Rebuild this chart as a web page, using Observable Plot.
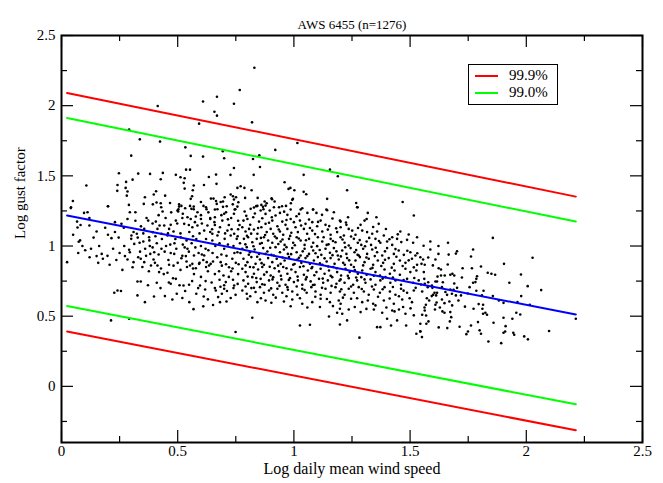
<!DOCTYPE html>
<html><head><meta charset="utf-8">
<script src="https://cdn.jsdelivr.net/npm/d3@7"></script>
<script src="https://cdn.jsdelivr.net/npm/@observablehq/plot@0.6"></script>
<style>
body{margin:0;background:#fff}
#wrap{position:relative;width:663px;height:483px;font-family:"Liberation Serif","Times New Roman",serif}
#legend{position:absolute;left:468px;top:64px;width:88px;height:39px;border:1px solid #000;background:#fff}
.lg{position:absolute;left:6px;width:23px;height:2px}
.lt{position:absolute;left:40px;font-size:15px;line-height:15px;color:#000}
</style>
</head><body><div id="wrap"></div>
<script>
const title = "AWS 6455 (n=1276)";
const xLabel = "Log daily mean wind speed";
const yLabel = "Log gust factor";
const xTicks = [0, 0.5, 1, 1.5, 2, 2.5];
const yTicks = [0, 0.5, 1, 1.5, 2, 2.5];
const xMinor = [0.25, 0.75, 1.25, 1.75, 2.25];
const yMinor = [-0.25, 0.25, 0.75, 1.25, 1.75, 2.25];
const legendNames = ["99.9%", "99.0%"];

const fitLine  = [[0.024, 1.217], [2.213, 0.512]];
const upper999 = [[0.024, 2.090], [2.213, 1.352]];
const upper990 = [[0.024, 1.912], [2.213, 1.174]];
const lower990 = [[0.024, 0.572], [2.213, -0.128]];
const lower999 = [[0.024, 0.391], [2.213, -0.313]];

const pointsUpper = [
[0.414,1.998],[0.609,2.03],[0.669,2.064],[0.742,2.014],[0.767,2.112],[0.658,1.957],[0.669,1.929],[0.592,1.872],[0.291,1.829],[0.337,1.76],[0.424,1.744],[0.533,1.703],[0.694,1.675],[0.7,1.625],[0.556,1.642],[0.609,1.637],[0.3,1.644],[0.742,1.556],[0.536,1.544],[0.553,1.544],[0.247,1.518],[0.33,1.516],[0.381,1.514],[0.436,1.521],[0.492,1.507],[0.512,1.49],[0.53,1.483],[0.634,1.492],[0.665,1.509],[0.727,1.507],[0.427,1.476],[0.306,1.473],[0.278,1.457],[0.241,1.435],[0.107,1.431],[0.526,1.45],[0.569,1.431],[0.613,1.435],[0.667,1.443],[0.771,1.426],[0.276,1.414],[0.24,1.393],[0.284,1.388],[0.407,1.39],[0.53,1.409],[0.565,1.397],[0.757,1.414],[0.397,1.367],[0.281,1.359],[0.446,1.359],[0.359,1.347],[0.049,1.321],[0.041,1.276],[0.2,1.283],[0.29,1.293],[0.354,1.3],[0.393,1.297],[0.427,1.305],[0.409,1.31],[0.467,1.307],[0.506,1.297],[0.516,1.286],[0.556,1.336],[0.562,1.355],[0.553,1.286],[0.6,1.314],[0.611,1.286],[0.643,1.338],[0.654,1.338],[0.665,1.321],[0.668,1.3],[0.685,1.314],[0.695,1.317],[0.702,1.347],[0.711,1.283],[0.728,1.367],[0.738,1.355],[0.742,1.331],[0.737,1.297],[0.751,1.347],[0.761,1.312],[0.503,1.262],[0.569,1.262],[0.624,1.262],[0.671,1.262],[0.748,1.262],
[0.83,2.27],[0.82,1.881],[1.015,1.734],[0.92,1.685],[0.851,1.646],[0.824,1.62],[0.854,1.563],[1.155,1.544],[1.189,1.497],[1.042,1.507],[0.827,1.507],[0.96,1.454],[0.787,1.414],[0.818,1.397],[0.977,1.407],[0.985,1.414],[1.002,1.397],[1.042,1.386],[1.053,1.369],[1.229,1.397],[0.79,1.343],[0.844,1.343],[0.904,1.34],[0.906,1.333],[0.993,1.329],[0.996,1.336],[1.143,1.336],[1.268,1.307],[1.468,1.314],[0.874,1.317],[0.883,1.305],[0.86,1.293],[0.878,1.288],[0.867,1.279],[0.917,1.317],[0.936,1.276],[0.949,1.283],[0.966,1.286],[0.987,1.305],[0.828,1.274],[0.843,1.286],[1.029,1.26],[1.082,1.26],[1.14,1.26],[1.274,1.276]
];

const pointsLeft = [
[0.04,1.27],[0.024,0.885],[0.067,1.174],[0.069,1.132],[0.074,1.03],[0.08,1.04],[0.09,1.0],[0.072,0.95],[0.097,1.236],
[0.112,1.241],[0.12,1.146],[0.151,1.103],[0.127,0.98],[0.121,0.92],[0.151,0.928],[0.173,0.944],[0.178,0.909],[0.2,1.283],
[0.2,1.08],[0.215,1.056],[0.23,1.17],[0.207,0.866],[0.258,1.158],[0.227,0.667],[0.241,0.683],[0.256,0.68],[0.213,0.47],[0.284,1.193],[0.294,1.241],[0.273,0.928],[0.284,0.904],[0.291,0.973],[0.294,0.956],[0.291,0.482],[0.301,1.075],
[0.3,1.051],[0.313,1.015],[0.318,1.241],[0.306,0.849],[0.31,0.885],[0.327,0.747],[0.341,0.747],[0.327,0.648],[0.324,1.087],[0.336,1.023],[0.352,1.032],[0.341,0.909],[0.356,0.885],[0.359,0.6],[0.356,1.122],[0.373,1.181],[0.377,1.063],[0.382,0.944],[0.385,0.861],[0.393,1.098],[0.396,0.904],[0.399,0.956],
[0.406,1.174],[0.413,1.122],[0.422,1.146],[0.43,1.087],[0.413,0.861],[0.42,0.814],[0.41,0.738],[0.429,1.276],[0.435,1.246],[0.442,1.146],[0.445,0.643],[0.456,1.075],[0.463,1.122],[0.47,1.151],[0.463,0.866],[0.47,0.731],[0.482,1.103],[0.477,0.619],[0.492,1.181],[0.492,0.766],[0.496,0.66],[0.485,0.944],[0.499,1.253],
[0.506,1.281],[0.502,1.246],[0.513,1.063],[0.516,0.913],[0.528,1.158],[0.535,0.928],[0.525,0.719],[0.542,1.205],[0.542,0.98],[0.553,0.861],[0.556,1.193],[0.563,1.134],[0.532,1.269],[0.559,1.265],[0.569,1.281],[0.574,1.17],[0.57,0.932],[0.563,0.873],[0.578,0.842],[0.549,0.724],[0.585,1.146],[0.585,1.241],[0.592,0.873],[0.596,0.719],
[0.6,1.193],[0.614,1.11],[0.622,1.276],[0.628,1.146],[0.614,0.932],[0.625,0.885],[0.635,0.861],[0.64,1.193],[0.649,1.087],[0.642,0.873],[0.649,1.039],[0.66,1.205],[0.66,1.26],[0.664,0.683],[0.671,1.075],[0.674,0.636],[0.682,1.134],[0.685,0.885],[0.692,1.181],[0.695,1.279],[0.697,0.79],[0.702,1.051],[0.707,0.743],[0.7,0.695],
[0.708,1.241],[0.714,1.11],[0.71,0.605],[0.721,0.849],[0.728,1.075],[0.735,0.909],[0.743,1.087],[0.745,1.26],[0.749,0.652],[0.754,1.051],[0.757,1.281],[0.757,0.956],[0.749,0.387],[0.743,0.719],
[0.52,1.2],[0.55,1.1],[0.58,1.05],[0.6,1.0],[0.62,0.98],[0.64,1.1],[0.66,1.15],[0.68,1.02],[0.7,0.98],[0.72,1.15],[0.74,1.0],[0.76,1.12],[0.53,0.99],[0.56,1.02],[0.59,0.95],[0.61,0.9],[0.63,0.82],[0.65,0.95],[0.67,0.92],[0.69,0.86],[0.71,0.93],[0.73,0.82],[0.75,0.88],[0.77,0.95],[0.54,0.85],[0.57,0.8],[0.6,0.78],[0.62,0.75],[0.66,0.8],[0.68,0.76],[0.7,0.72],[0.72,0.78],[0.74,0.7],[0.76,0.8],[0.45,1.0],[0.47,0.95],[0.49,1.05],[0.43,0.98],[0.41,1.02],[0.46,0.9],[0.5,0.88],[0.52,0.93],[0.44,0.8],[0.48,0.77],[0.38,1.0],[0.36,0.98],[0.33,0.92],[0.31,1.1],[0.27,1.0],[0.25,0.95],[0.23,1.1],[0.6,1.22],[0.64,1.2],[0.7,1.23],[0.73,1.2],[0.76,1.18],[0.66,0.7],[0.58,0.66],[0.63,0.62],[0.69,0.66],[0.55,0.6],[0.61,0.57],
[0.318,1.18],[0.342,1.14],[0.366,1.2],[0.392,1.16],[0.418,1.22],[0.448,1.2],[0.472,1.24],[0.498,1.16],[0.522,1.23],[0.548,1.15],[0.578,1.21],[0.604,1.16],[0.632,1.24],[0.658,1.17],[0.688,1.22],[0.716,1.19],[0.742,1.23],[0.766,1.15],
[0.328,1.06],[0.352,1.09],[0.378,1.04],[0.404,1.07],[0.432,1.05],[0.458,1.09],[0.486,1.02],[0.512,1.09],[0.538,1.04],[0.566,1.07],[0.594,1.09],[0.622,1.05],[0.648,1.12],[0.676,1.1],[0.704,1.09],[0.732,1.12],[0.758,1.07],
[0.338,0.96],[0.364,0.93],[0.392,0.99],[0.418,0.94],[0.444,0.96],[0.468,1.01],[0.494,0.98],[0.522,1.01],[0.548,0.96],[0.576,0.99],[0.604,0.94],[0.632,0.97],[0.662,1.0],[0.688,0.94],[0.716,1.01],[0.744,0.95],[0.768,1.02],
[0.348,0.85],[0.376,0.82],[0.402,0.88],[0.428,0.84],[0.456,0.81],[0.482,0.86],[0.512,0.83],[0.538,0.89],[0.566,0.84],[0.594,0.88],[0.622,0.85],[0.652,0.89],[0.678,0.82],[0.708,0.87],[0.736,0.84],[0.762,0.87],
[0.372,0.72],[0.426,0.7],[0.462,0.74],[0.508,0.72],[0.532,0.68],[0.562,0.75],[0.588,0.7],[0.618,0.69],[0.646,0.74],[0.684,0.71],[0.712,0.68],[0.738,0.76],[0.758,0.73],
[0.398,0.64],[0.52,0.63],[0.612,0.64],[0.682,0.6],[0.728,0.63],[0.652,0.58],[0.568,0.55],
[0.05,1.08],[0.082,1.15],[0.102,0.97],[0.138,1.06],[0.162,1.0],[0.188,1.13],[0.222,0.98],[0.246,1.06],[0.268,1.13],[0.158,0.88],[0.262,0.83],[0.198,0.93],[0.12,1.2],[0.236,0.9]
];

const pointsCentre = [
[0.788,1.246],[0.814,1.265],[0.838,1.284],[0.857,1.253],[0.878,1.229],[0.896,1.253],[0.914,1.276],[0.94,1.236],[0.972,1.222],[0.986,1.26],[1.022,1.229],[1.036,1.269],[1.083,1.26],[1.097,1.236],[1.143,1.255],[1.172,1.241],[1.198,1.181],[1.272,1.276],[1.355,1.205],[1.516,1.217],
[0.783,1.181],[0.8,1.193],[0.825,1.205],[0.85,1.174],[0.864,1.198],[0.878,1.158],[0.907,1.181],[0.921,1.217],[0.95,1.174],[0.964,1.151],[0.986,1.193],[1.0,1.17],[1.026,1.181],[1.05,1.158],[1.065,1.189],[1.079,1.17],[1.115,1.181],[1.136,1.151],[1.201,1.174],[1.226,1.151],[1.236,1.122],[1.287,1.151],[1.304,1.181],[1.313,1.193],[1.365,1.158],
[0.778,1.134],[0.792,1.103],[0.807,1.122],[0.828,1.117],[0.843,1.087],[0.86,1.134],[0.883,1.099],[0.9,1.122],[0.911,1.087],[0.929,1.141],[0.94,1.103],[0.954,1.08],[0.972,1.122],[0.989,1.094],[1.007,1.134],[1.017,1.099],[1.043,1.122],[1.057,1.087],[1.079,1.11],[1.1,1.141],[1.122,1.103],[1.146,1.117],[1.158,1.08],[1.186,1.099],[1.201,1.134],[1.215,1.075],[1.251,1.11],[1.265,1.08],[1.294,1.11],[1.315,1.099],[1.337,1.087],[1.358,1.103],[1.387,1.075],[1.423,1.063],[1.458,1.103],[1.494,1.082],
[0.785,1.051],[0.803,1.063],[0.821,1.027],[0.84,1.051],[0.854,1.016],[0.871,1.063],[0.889,1.039],[0.907,1.023],[0.926,1.056],[0.943,1.032],[0.96,1.008],[0.979,1.051],[0.997,1.023],[1.012,1.063],[1.029,1.039],[1.046,1.008],[1.065,1.051],[1.083,1.023],[1.103,1.063],[1.122,1.032],[1.141,1.008],[1.158,1.051],[1.179,1.027],[1.201,1.063],[1.218,1.023],[1.236,1.004],[1.258,1.051],[1.275,1.023],[1.29,1.008],[1.313,1.032],[1.332,1.008],[1.351,1.051],[1.372,1.023],[1.401,1.032],[1.423,1.008],[1.444,1.051],[1.487,1.044],[1.513,1.023],[1.53,1.063],
[0.778,0.98],[0.797,0.992],[0.811,0.956],[0.831,0.975],[0.85,0.944],[0.868,0.985],[0.886,0.961],[0.903,0.937],[0.921,0.992],[0.94,0.956],[0.957,0.975],[0.974,0.944],[0.993,0.985],[1.012,0.956],[1.029,0.932],[1.046,0.98],[1.065,0.944],[1.083,0.968],[1.1,0.999],[1.118,0.937],[1.136,0.98],[1.155,0.952],[1.172,0.985],[1.189,0.932],[1.208,0.968],[1.226,0.944],[1.244,0.985],[1.261,0.956],[1.279,0.932],[1.298,0.98],[1.315,0.944],[1.337,0.975],[1.358,0.956],[1.38,0.932],[1.401,0.985],[1.43,0.944],[1.451,0.968],[1.473,0.937],[1.501,0.956],[1.523,0.932],
[0.783,0.909],[0.8,0.885],[0.817,0.921],[0.835,0.873],[0.854,0.904],[0.871,0.866],[0.889,0.914],[0.907,0.885],[0.926,0.909],[0.943,0.873],[0.96,0.897],[0.979,0.921],[0.997,0.866],[1.015,0.904],[1.032,0.88],[1.05,0.914],[1.069,0.873],[1.086,0.897],[1.103,0.921],[1.122,0.866],[1.141,0.89],[1.158,0.914],[1.175,0.873],[1.193,0.904],[1.212,0.88],[1.229,0.914],[1.246,0.866],[1.265,0.897],[1.284,0.921],[1.304,0.885],[1.322,0.909],[1.341,0.866],[1.361,0.897],[1.384,0.88],[1.408,0.914],[1.43,0.873],[1.456,0.897],[1.48,0.88],[1.508,0.909],[1.53,0.866],
[0.778,0.838],[0.792,0.814],[0.811,0.85],[0.828,0.802],[0.846,0.833],[0.864,0.85],[0.883,0.814],[0.9,0.79],[0.917,0.842],[0.936,0.819],[0.954,0.85],[0.972,0.802],[0.989,0.833],[1.007,0.814],[1.026,0.85],[1.043,0.795],[1.06,0.826],[1.079,0.85],[1.097,0.814],[1.115,0.838],[1.132,0.802],[1.151,0.826],[1.169,0.85],[1.186,0.814],[1.203,0.79],[1.222,0.838],[1.24,0.814],[1.258,0.85],[1.275,0.802],[1.294,0.826],[1.313,0.795],[1.33,0.838],[1.351,0.814],[1.37,0.79],[1.39,0.833],[1.413,0.802],[1.433,0.826],[1.456,0.795],[1.48,0.838],[1.501,0.814],[1.527,0.826],
[0.783,0.755],[0.803,0.731],[0.821,0.778],[0.84,0.743],[0.857,0.766],[0.874,0.724],[0.893,0.755],[0.911,0.778],[0.929,0.738],[0.946,0.762],[0.964,0.724],[0.983,0.771],[1.0,0.743],[1.017,0.755],[1.036,0.724],[1.055,0.778],[1.072,0.748],[1.089,0.724],[1.108,0.766],[1.126,0.738],[1.146,0.755],[1.165,0.778],[1.183,0.731],[1.201,0.762],[1.218,0.738],[1.236,0.771],[1.255,0.724],[1.272,0.755],[1.29,0.778],[1.308,0.738],[1.33,0.762],[1.351,0.724],[1.372,0.755],[1.394,0.778],[1.415,0.738],[1.437,0.755],[1.461,0.724],[1.487,0.766],[1.513,0.738],[1.537,0.755],
[0.778,0.683],[0.797,0.66],[0.817,0.7],[0.835,0.672],[0.854,0.707],[0.871,0.667],[0.893,0.683],[0.911,0.653],[0.929,0.695],[0.95,0.667],[0.972,0.707],[0.993,0.676],[1.015,0.653],[1.036,0.695],[1.055,0.667],[1.075,0.707],[1.093,0.676],[1.115,0.653],[1.136,0.695],[1.158,0.667],[1.179,0.707],[1.198,0.676],[1.218,0.653],[1.236,0.695],[1.258,0.667],[1.279,0.707],[1.301,0.676],[1.322,0.653],[1.344,0.69],[1.37,0.667],[1.39,0.707],[1.413,0.676],[1.437,0.653],[1.461,0.695],[1.487,0.667],[1.516,0.683],
[0.8,0.624],[0.843,0.6],[0.878,0.612],[0.903,0.596],[0.957,0.605],[0.993,0.619],[1.036,0.589],[1.079,0.6],[1.115,0.624],[1.155,0.6],[1.193,0.612],[1.201,0.589],[1.246,0.624],[1.294,0.6],[1.341,0.589],[1.351,0.577],[1.387,0.612],[1.43,0.589],[1.466,0.619],[1.508,0.6],
[0.821,0.489],[1.198,0.553],[1.208,0.517],[1.186,0.524],[1.236,0.548],[1.287,0.529],[1.344,0.548],[1.38,0.524],[1.423,0.541],[1.433,0.534],[1.47,0.565],[1.48,0.517],[1.516,0.506],[1.151,0.498],
[1.026,0.434],[1.069,0.439],[1.198,0.441],[1.229,0.47],[1.282,0.347],[1.358,0.422],[1.372,0.422],[1.418,0.434],[1.483,0.434],[1.527,0.375],[1.544,0.392],[1.444,0.47],[1.401,0.482],
[0.795,1.215],[0.832,1.232],[0.869,1.262],[0.905,1.205],[0.958,1.245],[1.011,1.212],[1.058,1.236],[1.121,1.222],[1.166,1.196],[1.233,1.205],[1.318,1.236],
[0.812,1.152],[0.846,1.128],[0.893,1.166],[0.935,1.118],[0.968,1.185],[1.031,1.146],[1.069,1.128],[1.104,1.172],[1.152,1.142],[1.182,1.126],[1.224,1.168],[1.276,1.128],[1.341,1.136],[1.396,1.121],[1.447,1.083],
[0.798,1.073],[0.816,1.088],[0.858,1.058],[0.876,1.078],[0.918,1.068],[0.951,1.046],[0.984,1.072],[1.021,1.054],[1.052,1.041],[1.091,1.085],[1.128,1.062],[1.168,1.036],[1.209,1.046],[1.246,1.068],[1.283,1.042],[1.324,1.058],[1.366,1.036],[1.411,1.048],[1.462,1.028],
[0.791,1.012],[0.826,0.998],[0.862,1.021],[0.898,0.988],[0.933,1.014],[0.968,0.992],[1.004,1.006],[1.038,0.962],[1.076,0.994],[1.111,0.972],[1.149,1.012],[1.183,0.962],[1.221,0.991],[1.268,0.971],[1.306,0.998],[1.352,0.988],[1.392,0.962],[1.437,0.978],[1.488,0.966],[1.531,0.948],
[0.806,0.938],[0.842,0.924],[0.878,0.944],[0.914,0.932],[0.951,0.918],[0.988,0.942],[1.022,0.916],[1.058,0.928],[1.093,0.948],[1.132,0.912],[1.166,0.935],[1.202,0.926],[1.238,0.898],[1.274,0.938],[1.312,0.918],[1.348,0.928],[1.392,0.902],[1.441,0.923],[1.494,0.898],
[0.792,0.862],[0.826,0.848],[0.861,0.878],[0.896,0.852],[0.932,0.86],[0.968,0.842],[1.003,0.872],[1.041,0.856],[1.076,0.842],[1.112,0.876],[1.148,0.854],[1.184,0.842],[1.219,0.866],[1.262,0.828],[1.298,0.862],[1.338,0.844],[1.376,0.858],[1.421,0.846],[1.468,0.858],[1.516,0.848],
[0.801,0.782],[0.838,0.772],[0.872,0.796],[0.908,0.762],[0.944,0.788],[0.978,0.758],[1.016,0.782],[1.051,0.762],[1.088,0.792],[1.124,0.768],[1.158,0.788],[1.196,0.752],[1.232,0.788],[1.268,0.776],[1.304,0.762],[1.344,0.788],[1.382,0.768],[1.426,0.776],[1.472,0.758],[1.518,0.772],
[0.792,0.712],[0.828,0.702],[0.864,0.728],[0.902,0.698],[0.938,0.716],[0.974,0.688],[1.012,0.712],[1.046,0.686],[1.082,0.722],[1.121,0.702],[1.162,0.716],[1.204,0.692],[1.246,0.712],[1.292,0.694],[1.336,0.712],[1.382,0.692],[1.426,0.708],[1.472,0.682],[1.524,0.702],
[0.812,0.642],[0.858,0.628],[0.922,0.632],[0.968,0.642],[1.026,0.628],[1.092,0.638],[1.142,0.622],[1.211,0.632],[1.272,0.628],[1.318,0.612],[1.362,0.638],[1.412,0.626],[1.452,0.642],[1.498,0.628],
[1.112,0.566],[1.168,0.572],[1.262,0.566],[1.312,0.552],[1.398,0.562],[1.452,0.548],[1.502,0.556],[1.058,0.562],[0.986,0.571]
];

const pointsRight = [
[1.587,1.032],[1.663,1.023],[1.856,1.058],[1.587,0.975],[1.622,1.0],[1.771,0.975],[1.702,0.963],[1.697,0.946],[1.666,0.939],[1.622,0.944],[1.762,0.925],[2.027,0.916],[1.544,0.92],[1.556,0.904],[1.549,0.873],[1.563,0.866],[1.609,0.904],[1.623,0.842],[1.633,0.833],[1.766,0.842],[1.805,0.854],[1.904,0.873],[1.559,0.814],[1.834,0.809],[1.85,0.802],[1.866,0.795],[1.977,0.797],[1.633,0.79],[1.649,0.79],[1.673,0.795],[1.69,0.79],[1.723,0.776],[1.788,0.785],[1.785,0.766],[1.561,0.766],[1.609,0.747],[1.616,0.747],[1.69,0.733],[1.771,0.738],[1.781,0.743],[1.927,0.738],[1.547,0.726],[1.563,0.731],[1.576,0.707],[1.594,0.719],[1.637,0.707],[2.006,0.714],[2.064,0.686],[1.756,0.707],[1.673,0.69],[1.687,0.688],[1.785,0.681],[1.816,0.681],[1.605,0.667],[1.616,0.667],[1.599,0.652],[1.612,0.648],[1.593,0.643],[1.659,0.652],[1.68,0.66],[1.697,0.648],[1.719,0.648],[1.809,0.648],[1.856,0.643],[1.882,0.612],[1.978,0.643],[1.582,0.612],[1.637,0.619],[1.669,0.605],[1.568,0.581],[1.609,0.581],[1.648,0.593],[1.681,0.577],[1.795,0.586],[1.814,0.581],[1.962,0.6],[1.902,0.595],[1.974,0.512],[1.957,0.524],[2.015,0.581],[1.773,0.553],[1.811,0.553],[1.607,0.548],[1.563,0.541],[1.639,0.534],[1.648,0.524],[1.673,0.529],[1.814,0.517],[1.824,0.524],[1.831,0.51],[1.552,0.51],[1.569,0.505],[1.677,0.493],[1.902,0.489],[1.94,0.482],[2.213,0.482],[1.671,0.463],[1.579,0.463],[1.544,0.446],[1.57,0.446],[1.859,0.453],[1.713,0.425],[1.762,0.434],[1.911,0.429],[1.623,0.42],[1.66,0.415],[1.792,0.458],[1.799,0.399],[1.749,0.391],[1.805,0.375],[1.742,0.372],[1.902,0.382],[1.909,0.391],[1.944,0.382],[1.948,0.368],[1.991,0.356],[2.098,0.394],[2.007,0.335],[1.837,0.32],[1.892,0.308],[1.544,0.391],[1.551,0.351],
[1.558,1.002],[1.578,0.918],[1.598,0.862],[1.618,0.782],[1.641,0.742],[1.662,0.868],[1.682,0.802],[1.702,0.702],[1.726,0.842],[1.748,0.662],[1.552,0.676],[1.572,0.628],[1.596,0.702],[1.614,0.598],[1.652,0.672],[1.708,0.612],[1.736,0.568],[1.578,0.742],[1.562,0.562],[1.628,0.562]
];

const points = [...pointsUpper, ...pointsLeft, ...pointsCentre, ...pointsRight];

const W = 663, H = 483, mL = 61, mR = 21, mT = 35, mB = 41;
const fw = W - mL - mR, fh = H - mT - mB;
const fmt = d => String(d);
const serif = "Liberation Serif, Times New Roman, serif";

const plot = Plot.plot({
  width: W, height: H,
  marginLeft: mL, marginRight: mR, marginTop: mT, marginBottom: mB,
  x: {domain: [0, 2.5]},
  y: {domain: [-0.4, 2.5]},
  style: {fontFamily: serif, fontSize: "15px", color: "#000", background: "#fff"},
  marks: [
    Plot.dot(points, {x: d => d[0], y: d => d[1], r: 1.3, fill: "#000", stroke: "none"}),
    Plot.line(lower999, {x: d => d[0], y: d => d[1], stroke: "#ff0000", strokeWidth: 2}),
    Plot.line(upper999, {x: d => d[0], y: d => d[1], stroke: "#ff0000", strokeWidth: 2}),
    Plot.line(lower990, {x: d => d[0], y: d => d[1], stroke: "#00ff00", strokeWidth: 2}),
    Plot.line(upper990, {x: d => d[0], y: d => d[1], stroke: "#00ff00", strokeWidth: 2}),
    Plot.line(fitLine, {x: d => d[0], y: d => d[1], stroke: "#0000ff", strokeWidth: 2}),
    Plot.tickX(xTicks, {x: d => d, insetTop: fh - 12, stroke: "#000", strokeWidth: 1.2}),
    Plot.tickX(xTicks, {x: d => d, insetBottom: fh - 12, stroke: "#000", strokeWidth: 1.2}),
    Plot.tickX(xMinor, {x: d => d, insetTop: fh - 6, stroke: "#000", strokeWidth: 1.2}),
    Plot.tickX(xMinor, {x: d => d, insetBottom: fh - 6, stroke: "#000", strokeWidth: 1.2}),
    Plot.tickY(yTicks, {y: d => d, insetRight: fw - 12, stroke: "#000", strokeWidth: 1.2}),
    Plot.tickY(yTicks, {y: d => d, insetLeft: fw - 12, stroke: "#000", strokeWidth: 1.2}),
    Plot.tickY(yMinor, {y: d => d, insetRight: fw - 6, stroke: "#000", strokeWidth: 1.2}),
    Plot.tickY(yMinor, {y: d => d, insetLeft: fw - 6, stroke: "#000", strokeWidth: 1.2}),
    Plot.frame({stroke: "#000", strokeWidth: 2}),
    Plot.axisX({ticks: xTicks, tickSize: 0, tickPadding: 3, tickFormat: fmt, label: null, fontSize: 15}),
    Plot.axisY({ticks: yTicks, tickSize: 0, tickPadding: 6, tickFormat: fmt, label: null, fontSize: 15}),
    Plot.text([title], {frameAnchor: "top", dy: -16, fontSize: 13, fill: "#000"}),
    Plot.text([xLabel], {frameAnchor: "bottom", dy: 31, fontSize: 16, fill: "#000"}),
    Plot.text([yLabel], {frameAnchor: "left", dx: -41, rotate: -90, fontSize: 15, fill: "#000"})
  ]
});

const wrap = document.getElementById("wrap");
plot.style.position = "absolute";
plot.style.left = "0px";
plot.style.top = "0px";
wrap.appendChild(plot);

const legend = document.createElement("div");
legend.id = "legend";
const colors = ["#ff0000", "#00ff00"];
legendNames.forEach((name, i) => {
  const ln = document.createElement("div");
  ln.className = "lg";
  ln.style.top = (10 + i * 17) + "px";
  ln.style.background = colors[i];
  legend.appendChild(ln);
  const tx = document.createElement("div");
  tx.className = "lt";
  tx.style.top = (3 + i * 17) + "px";
  tx.textContent = name;
  legend.appendChild(tx);
});
wrap.appendChild(legend);
</script>
</body></html>
